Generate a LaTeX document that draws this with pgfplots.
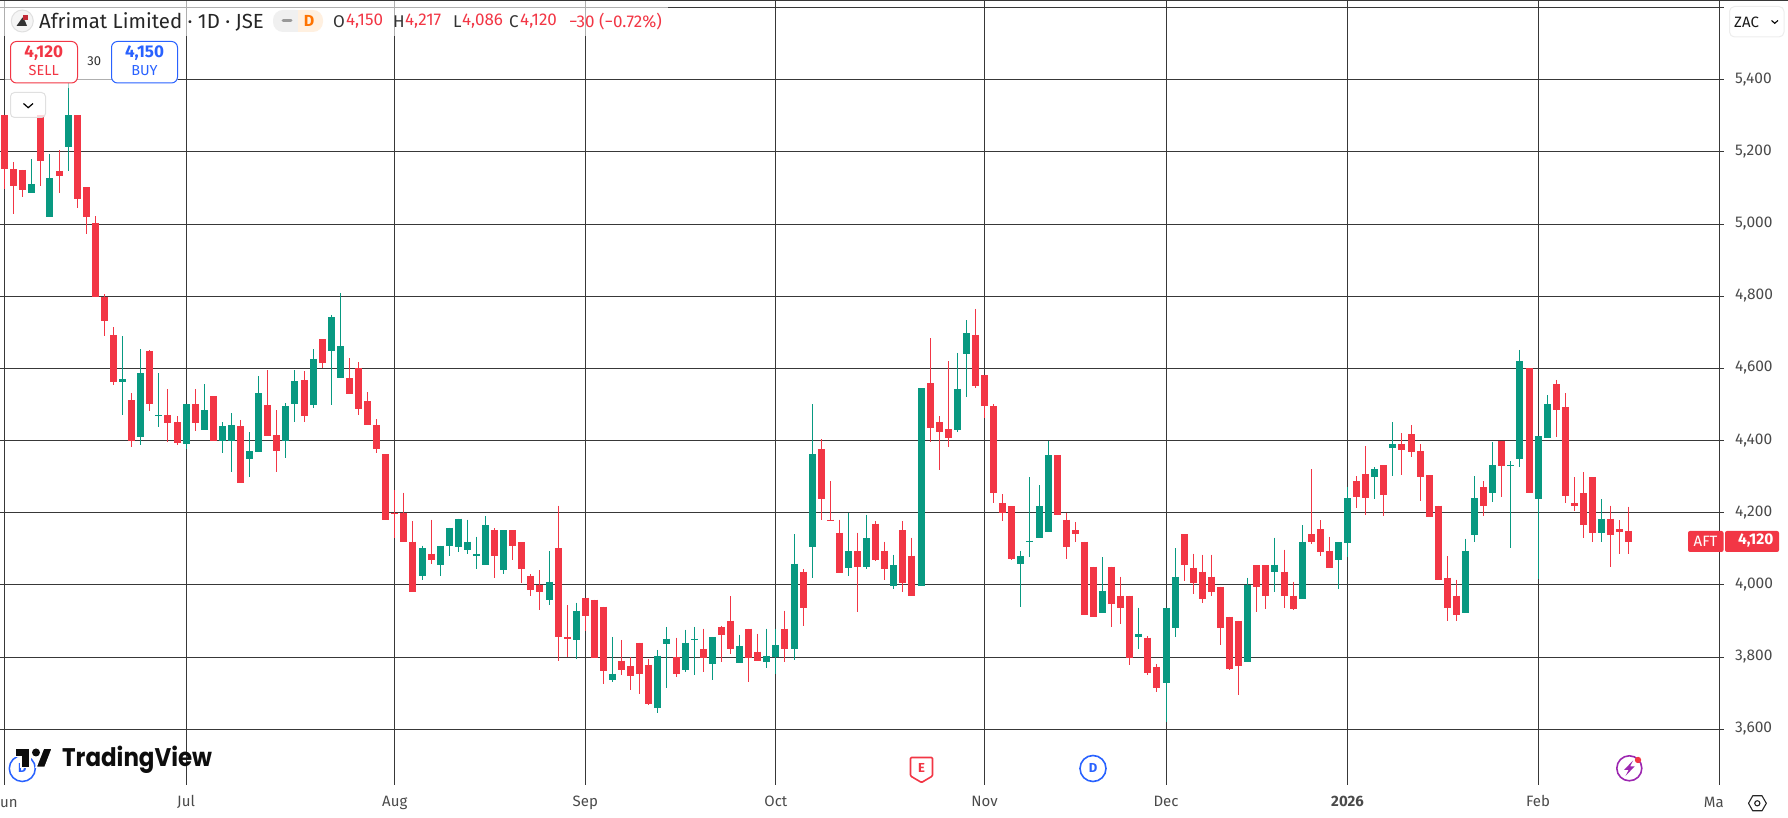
\documentclass[border=0pt]{standalone}
\usepackage{fontspec}
\setmainfont{Fira Sans}
\newfontfamily\logofont{Poppins}
\usepackage{pgfplots}
\usepackage{pgfplotstable}
\pgfplotsset{compat=1.18}
\definecolor{tvred}{HTML}{F23645}
\definecolor{tvgreen}{HTML}{089981}
\definecolor{tvblue}{HTML}{2962FF}
\definecolor{tvgrid}{HTML}{383838}
\definecolor{tvtext}{HTML}{4A4A4A}
\definecolor{tvpurple}{HTML}{9C27B0}
\pgfplotstableread{
i o h l c
0 5302 5302 5096 5152
1 5152 5172 5028 5105
2 5150 5150 5075 5094
4 5302 5302 5105 5175
6 5147 5205 5086 5133
8 5302 5302 5044 5069
9 5102 5102 4972 5019
10 5002 5022 4799 4799
11 4799 4806 4689 4731
12 4692 4714 4554 4562
14 4512 4531 4382 4399
16 4648 4650 4481 4501
18 4470 4542 4396 4448
19 4451 4468 4387 4393
21 4501 4542 4426 4448
23 4523 4523 4398 4398
26 4440 4457 4282 4282
29 4498 4595 4412 4412
30 4415 4484 4312 4371
33 4567 4592 4451 4468
35 4681 4681 4601 4615
38 4573 4628 4529 4529
39 4601 4617 4470 4487
40 4509 4534 4443 4443
41 4443 4459 4365 4376
42 4362 4362 4181 4181
43 4200 4262 4129 4196
44 4200 4256 4118 4118
45 4120 4176 3979 3979
47 4087 4181 4059 4070
54 4151 4157 4018 4081
56 4151 4151 4070 4109
57 4118 4118 4006 4045
58 4026 4029 3970 3987
59 4001 4040 3931 3979
61 4101 4220 3790 3856
62 3856 3943 3801 3851
64 3965 3965 3873 3915
65 3959 3959 3798 3798
66 3940 3940 3726 3762
68 3790 3848 3751 3765
69 3776 3801 3709 3748
70 3840 3840 3698 3754
71 3779 3795 3668 3670
74 3801 3854 3745 3754
77 3823 3879 3759 3798
79 3884 3887 3787 3862
80 3901 3968 3809 3823
82 3879 3879 3731 3798
83 3815 3865 3790 3790
86 3879 3929 3787 3823
88 4037 4043 3887 3937
90 4376 4404 4181 4237
91 4181 4287 4176 4178
92 4145 4181 4034 4034
94 4093 4145 3926 4051
96 4170 4176 4065 4070
97 4095 4120 4015 4043
99 4151 4176 3981 4004
100 4081 4131 3968 3968
102 4559 4684 4395 4434
103 4451 4468 4318 4423
104 4431 4620 4381 4406
107 4693 4765 4545 4551
108 4581 4581 4462 4495
109 4495 4501 4226 4254
110 4226 4251 4176 4200
111 4218 4218 4070 4073
116 4359 4359 4193 4193
117 4181 4200 4073 4106
118 4151 4173 4120 4140
119 4120 4120 3917 3917
120 4051 4051 3912 3912
122 4051 4051 3884 3948
123 3970 4023 3893 3937
124 3970 3970 3779 3798
126 3854 3859 3751 3756
127 3773 3781 3704 3715
130 4140 4140 4012 4054
131 4048 4087 3976 4004
132 4037 4084 3951 3962
133 4023 4084 3968 3981
134 3995 3995 3834 3881
135 3912 3912 3765 3767
136 3901 3901 3695 3776
138 4054 4054 3926 3993
139 4054 4054 3934 3968
141 4037 4098 3937 3968
142 3970 4009 3931 3934
144 4140 4320 4112 4120
145 4154 4179 4079 4090
146 4095 4134 4048 4048
149 4287 4301 4212 4243
150 4306 4384 4195 4240
152 4331 4331 4190 4248
154 4390 4420 4304 4373
155 4418 4443 4354 4368
156 4370 4390 4232 4298
157 4304 4304 4187 4187
158 4220 4220 4015 4015
159 4020 4079 3901 3937
160 3970 4015 3901 3918
163 4270 4287 4190 4220
165 4398 4398 4243 4329
168 4600 4600 4254 4254
171 4556 4568 4409 4484
172 4493 4531 4226 4245
173 4226 4298 4206 4218
174 4254 4312 4129 4165
175 4298 4298 4118 4143
177 4184 4220 4051 4137
178 4154 4179 4087 4148
179 4150 4217 4086 4120
}\redcandles
\pgfplotstableread{
i o h l c
3 5086 5180 5086 5111
5 5019 5194 5019 5127
7 5213 5400 5147 5302
13 4562 4689 4470 4570
15 4410 4653 4387 4587
17 4467 4587 4437 4470
20 4390 4501 4376 4501
22 4429 4556 4429 4484
24 4398 4451 4365 4440
25 4398 4476 4312 4443
27 4349 4423 4300 4371
28 4368 4578 4368 4531
31 4398 4504 4351 4495
32 4501 4595 4451 4565
34 4498 4653 4490 4626
36 4648 4748 4498 4742
37 4573 4809 4573 4662
46 4026 4109 4015 4101
48 4056 4109 4026 4109
49 4109 4159 4079 4159
50 4106 4184 4090 4184
51 4098 4181 4087 4120
52 4079 4134 4043 4087
53 4056 4190 4056 4165
55 4040 4151 4031 4151
60 3959 4093 3945 4009
63 3848 3951 3795 3929
67 3737 3856 3731 3754
72 3659 3820 3645 3804
73 3837 3884 3715 3851
75 3765 3876 3759 3840
76 3848 3884 3751 3851
78 3781 3856 3737 3856
81 3784 3862 3784 3831
84 3787 3879 3770 3804
85 3800 3879 3754 3834
87 3823 4140 3793 4059
89 4106 4501 4020 4362
93 4048 4200 4026 4093
95 4051 4195 4043 4129
98 3998 4084 3990 4054
101 3998 4545 3998 4545
105 4429 4643 4423 4543
106 4640 4734 4520 4698
112 4059 4095 3940 4079
113 4118 4298 4076 4123
114 4129 4276 4129 4218
115 4148 4398 4148 4359
121 3923 4076 3923 3984
125 3856 3937 3823 3865
128 3729 3937 3620 3937
129 3881 4101 3856 4023
137 3787 4020 3787 4000
140 4037 4131 3979 4056
143 3962 4165 3962 4120
147 4070 4118 3990 4118
148 4115 4270 4076 4240
151 4298 4326 4237 4320
153 4379 4451 4301 4390
161 3923 4128 3923 4095
162 4137 4301 4118 4240
164 4254 4395 4229 4331
166 4329 4343 4101 4331
167 4348 4651 4326 4620
169 4237 4412 4017 4412
170 4408 4526 4408 4501
176 4143 4237 4118 4184
}\greencandles
\newcommand{\fs}[1]{\fontsize{#1}{#1}\selectfont}
\begin{document}
\begin{tikzpicture}
\path[use as bounding box] (0,0) rectangle (1788pt,818pt);
\begin{axis}[
  at={(0pt,33pt)}, anchor=south west, scale only axis,
  width=1724pt, height=785pt,
  xmin=-0.507, xmax=189.49, ymin=3445.6, ymax=5620.8,
  xtick={0,20,43,64,85,108,128,148,169,189},
  xticklabels={,Jul,Aug,Sep,Oct,Nov,Dec,{\textbf{2026}},Feb,},
  ytick={3600,3800,4000,4200,4400,4600,4800,5000,5200,5400,5600},
  yticklabels={{3,600},{3,800},{4,000},{4,200},{4,400},{4,600},{4,800},{5,000},{5,200},{5,400},},
  ytick pos=right, yticklabel pos=right,
  major tick length=0pt,
  grid=major,
  major grid style={line width=0.9pt,color=tvgrid},
  axis line style={draw=none},
  tick style={draw=none},
  x tick label style={anchor=center,yshift=-18pt,font=\fs{15},text=tvtext,text height=10pt,text depth=3pt,inner sep=0pt},
  y tick label style={anchor=west,xshift=11pt,yshift=0.5pt,font=\fs{15.5},text=tvtext,inner sep=0pt},
]
% wicks
\addplot[draw=none,mark=none,forget plot,error bars/.cd,y dir=minus,y explicit,error mark=none,
  error bar style={line width=1pt,color=tvred}]
  table[x=i,y=h,y error minus expr=\thisrow{h}-\thisrow{l}] {\redcandles};
\addplot[draw=none,mark=none,forget plot,error bars/.cd,y dir=minus,y explicit,error mark=none,
  error bar style={line width=1pt,color=tvgreen}]
  table[x=i,y=h,y error minus expr=\thisrow{h}-\thisrow{l}] {\greencandles};
% bodies
\addplot[draw=none,mark=none,forget plot,error bars/.cd,y dir=minus,y explicit,error mark=none,
  error bar style={line width=7pt,color=tvred}]
  table[x=i,y=o,y error minus expr=\thisrow{o}-\thisrow{c}] {\redcandles};
\addplot[draw=none,mark=none,forget plot,error bars/.cd,y dir=minus,y explicit,error mark=none,
  error bar style={line width=7pt,color=tvgreen}]
  table[x=i,y=c,y error minus expr=\thisrow{c}-\thisrow{o}] {\greencandles};
\end{axis}
\begin{scope}[shift={(0pt,818pt)},x=1pt,y=-1pt]
  % top edge
  \draw[tvgrid,line width=0.8pt] (0,0.3) -- (1788,0.3);
  % legend veil
  \fill[white,opacity=0.6] (0,1) rectangle (668,36);
  \fill[white,opacity=0.6] (178,40) rectangle (5,88);
  % symbol icon
  \draw[fill=black!4,draw=black!12,line width=1pt] (22.3,21) circle (11);
  \fill[black!80] (16.5,26) -- (22.5,17.5) -- (25,21) -- (27,26) -- cycle;
  \fill[tvred!80!black] (22.5,15.5) rectangle (27.5,20.5);
  % title
  \node[anchor=west,inner sep=0,text=black!85] at (39,22) {\fs{20.4}Afrimat Limited · 1D · JSE};
  % badge
  \fill[black!6,rounded corners=10pt] (273,10) rectangle (305,32);
  \fill[orange!12,rounded corners=10pt] (291,10) rectangle (323,32);
  \fill[black!6] (285,10) rectangle (298,32);
  \fill[orange!12] (298,10) rectangle (310,32);
  \draw[black!40,line width=3pt,line cap=round] (283,21) -- (291,21);
  \node[text=orange!90!red,inner sep=0] at (309,21) {\fs{16}\textbf{D}};
  % OHLC
  \begin{scope}[every node/.style={anchor=west,inner sep=0}]
    \node[text=black!80] at (333,21.5) {\fs{17}O};
    \node[text=tvred] at (346,21.5) {\fs{17}4,150};
    \node[text=black!80] at (393,21.5) {\fs{17}H};
    \node[text=tvred] at (405,21.5) {\fs{17}4,217};
    \node[text=black!80] at (453,21.5) {\fs{17}L};
    \node[text=tvred] at (462,21.5) {\fs{17}4,086};
    \node[text=black!80] at (509,21.5) {\fs{17}C};
    \node[text=tvred] at (520,21.5) {\fs{17}4,120};
    \node[text=tvred] at (569,21.5) {\fs{17}−30 (−0.72\%)};
  \end{scope}
  % sell / buy
  \draw[tvred,fill=white,line width=1pt,rounded corners=6pt] (10.5,41.5) rectangle (77.5,83);
  \node[text=tvred,inner sep=0] at (43.7,53.5) {\fs{17}\textbf{4,120}};
  \node[text=tvred,inner sep=0] at (43.7,71) {\fs{14.5}SELL};
  \node[text=black!80,inner sep=0] at (94.3,61.3) {\fs{13}30};
  \draw[tvblue,fill=white,line width=1pt,rounded corners=6pt] (111.5,41.5) rectangle (177.5,83);
  \node[text=tvblue,inner sep=0] at (144.5,53.5) {\fs{17}\textbf{4,150}};
  \node[text=tvblue,inner sep=0] at (144.5,71) {\fs{14.5}BUY};
  % chevron button
  \draw[black!12,fill=white,fill opacity=0.8,line width=1pt,rounded corners=4pt] (10.5,92.5) rectangle (45.5,117.5);
  \draw[black,line width=1.2pt] (23.5,103.5) -- (28.2,107.7) -- (33,103.5);
  % ZAC
  \draw[black!7,fill=white,line width=1pt,rounded corners=5pt] (1729.5,6.5) rectangle (1784,37);
  \node[anchor=west,inner sep=0,text=black!90] at (1734,22.5) {\fs{15}ZAC};
  \draw[black,line width=1.1pt] (1771.5,20.5) -- (1774.7,23.3) -- (1778,20.5);
  % price tag
  \fill[tvred,rounded corners=2pt] (1688,531) rectangle (1723.5,552);
  \fill[tvred,rounded corners=2pt] (1725,531) rectangle (1779,552);
  \node[text=white,inner sep=0] at (1705.5,541.5) {\fs{15}AFT};
  \node[anchor=east,text=white,inner sep=0] at (1773.5,541) {\fs{15.5}\textbf{4,120}};
  % clipped time labels
  \node[anchor=base west,inner sep=0,text=tvtext] at (0,808) {\fs{15}un};
  \node[anchor=base east,inner sep=0,text=tvtext] at (1724,808) {\fs{15}Ma};
  % settings hexagon
  \draw[black!85,line width=1.1pt,line join=round] (1748.5,803.3) -- (1752.7,795.8) -- (1762,795.8) -- (1766.3,803.3) -- (1762,810.8) -- (1752.7,810.8) -- cycle;
  \draw[black!85,line width=1.1pt] (1757.3,803.3) circle (2.6);
  % dividend icon (left), under the logo
  \draw[tvblue,line width=1.5pt,fill=white] (22.3,768.5) circle (13);
  \node[text=tvblue,inner sep=0] at (22.3,768.5) {\fs{13}\textbf{D}};
  % logo
  \filldraw[black!95,draw=white,line width=1.4pt] (15,748.3) -- (30,748.3) -- (30,767.3) -- (21,767.3) -- (21,756.7) -- (15,756.7) -- cycle;
  \filldraw[black!95,draw=white,line width=1.4pt] (43.5,748.3) -- (52.3,748.3) -- (45,767.3) -- (36,767.3) -- cycle;
  \fill[black!95] (36,752.5) circle (4);
  \node[anchor=base west,inner sep=0,text=black!95,xscale=0.9,yshift=0pt] at (62,767) {\logofont\fs{25.5}\textbf{TradingView}};
  % earnings icon
  \draw[tvred,line width=1.6pt,line join=round,fill=white,rounded corners=1pt] (910.5,757.5) -- (932.5,757.5) -- (932.5,776) -- (921.5,782.5) -- (910.5,776) -- cycle;
  \node[text=tvred,inner sep=0] at (921.5,768.5) {\fs{13}\textbf{E}};
  % dividend icon
  \draw[tvblue,line width=1.6pt,fill=white] (1093,768.5) circle (13);
  \node[text=tvblue,inner sep=0] at (1093,768.5) {\fs{13}\textbf{D}};
  % lightning icon
  \draw[tvpurple,line width=1.6pt,fill=white] (1629.3,768.3) circle (12.5);
  \fill[tvpurple] (1633,760.5) -- (1624,770) -- (1628.5,770) -- (1625.5,776) -- (1634.5,766.5) -- (1630,766.5) -- cycle;
  \fill[tvred] (1638,760) circle (3.2);
\end{scope}
\end{tikzpicture}
\end{document}
